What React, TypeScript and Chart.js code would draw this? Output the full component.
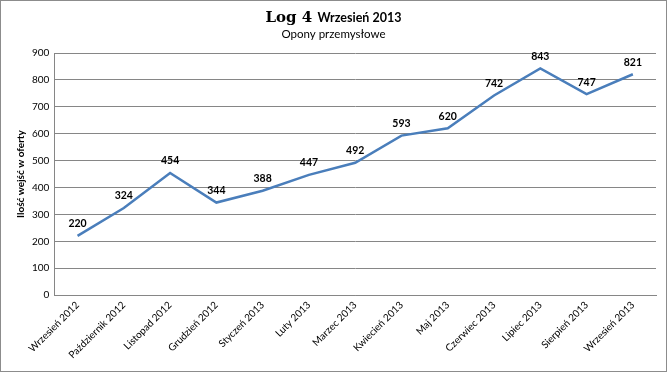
import React, { useEffect, useRef } from "react";
import { Chart, registerables } from "chart.js";

Chart.register(...registerables);

const categories = [
  "Wrzesień 2012", "Październik 2012", "Listopad 2012", "Grudzień 2012",
  "Styczeń 2013", "Luty 2013", "Marzec 2013", "Kwiecień 2013", "Maj 2013",
  "Czerwiec 2013", "Lipiec 2013", "Sierpień 2013", "Wrzesień 2013",
];
const visits = [220, 324, 454, 344, 388, 447, 492, 593, 620, 742, 843, 747, 821];
const titleLead = "Log 4";
const titleRest = "Wrzesień 2013";
const subtitleText = "Opony przemysłowe";
const yAxisTitle = "Ilość wejść w oferty";

const FONT = "Lato, 'Open Sans', sans-serif";

export default function App() {
  const ref = useRef<HTMLCanvasElement>(null);
  useEffect(() => {
    document.body.style.margin = "0";
    const labelPlugin = {
      id: "customText",
      afterDraw(chart: any) {
        const ctx = chart.ctx;
        ctx.save();
        ctx.fillStyle = "#000";
        ctx.textBaseline = "alphabetic";
        const f1 = "bold 15px 'DejaVu Serif', serif";
        const f2 = `bold 12.5px ${FONT}`;
        ctx.font = f1;
        const w1 = ctx.measureText(titleLead + " ").width;
        ctx.font = f2;
        const w2 = ctx.measureText(titleRest).width;
        const cx = chart.width / 2;
        const x = cx - (w1 + w2) / 2;
        ctx.font = f1;
        ctx.textAlign = "left";
        ctx.fillText(titleLead + " ", x, 21);
        ctx.font = f2;
        ctx.fillText(titleRest, x + w1, 21);
        ctx.font = `11.5px ${FONT}`;
        ctx.textAlign = "center";
        ctx.fillText(subtitleText, cx, 37);
        const meta = chart.getDatasetMeta(0);
        ctx.font = `bold 10.5px ${FONT}`;
        ctx.textBaseline = "middle";
        meta.data.forEach((pt: any, i: number) => {
          ctx.fillText(String(visits[i]), pt.x, pt.y - 12);
        });
        ctx.restore();
      },
    };
    const chart = new Chart(ref.current!, {
      type: "line",
      data: {
        labels: categories,
        datasets: [
          {
            data: visits,
            borderColor: "#4a7ebb",
            borderWidth: 2.5,
            pointRadius: 0,
            tension: 0,
          },
        ],
      },
      options: {
        animation: false,
        responsive: false,
        layout: { padding: { top: 52, right: 10, left: 14, bottom: 6 } },
        plugins: {
          legend: { display: false },
          tooltip: { enabled: false },
          title: { display: false },
        },
        scales: {
          x: {
            offset: true,
            grid: { display: false, drawTicks: false },
            border: { display: true, color: "#868686" },
            ticks: {
              minRotation: 45,
              maxRotation: 45,
              color: "#000",
              padding: 4,
              font: { family: FONT, size: 10 },
            },
          },
          y: {
            min: 0,
            max: 900,
            ticks: {
              stepSize: 100,
              color: "#000",
              padding: 5,
              font: { family: FONT, size: 10 },
            },
            grid: { color: "#868686", drawTicks: false },
            border: { display: true, color: "#868686" },
            title: {
              display: true,
              text: yAxisTitle,
              color: "#000",
              font: { family: FONT, size: 10, weight: "bold" },
              padding: { top: 0, bottom: 0 },
            },
          },
        },
      },
      plugins: [labelPlugin],
    });
    return () => chart.destroy();
  }, []);
  return (
    <div
      style={{
        width: 667,
        height: 372,
        boxSizing: "border-box",
        border: "1px solid #8c8c8c",
        background: "#fff",
      }}
    >
      <canvas ref={ref} width={665} height={370} style={{ display: "block" }} />
    </div>
  );
}
